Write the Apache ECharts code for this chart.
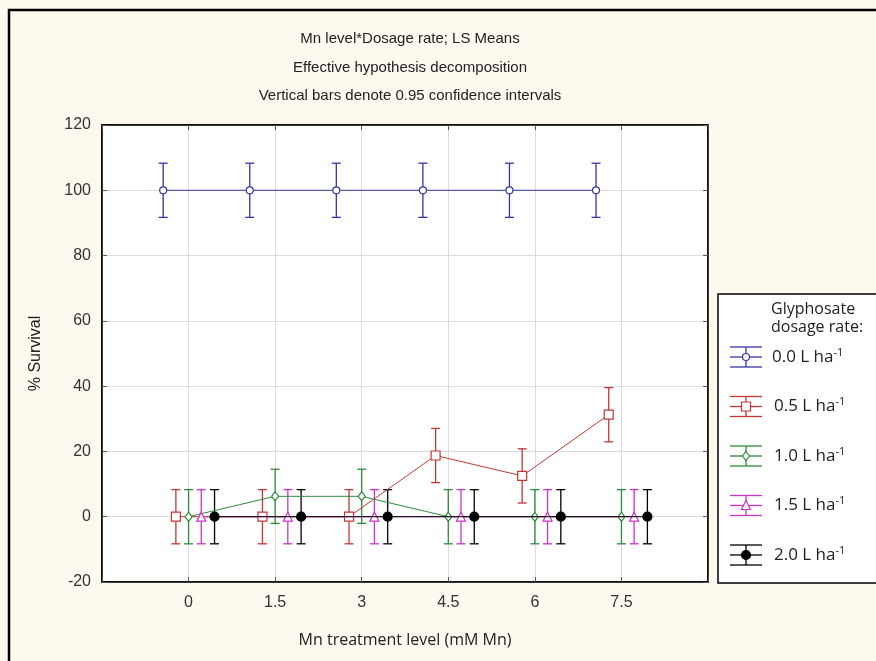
<!DOCTYPE html>
<html>
<head>
<meta charset="utf-8">
<script src="https://cdn.jsdelivr.net/npm/echarts@6/dist/echarts.min.js"></script>
<style>
html,body{margin:0;padding:0;background:#fdf9ee;}
#chart{width:876px;height:661px;}
</style>
</head>
<body>
<div id="chart"></div>
<script>
// ---- data ----
const mnLevels = [0, 1.5, 3, 4.5, 6, 7.5];
const xTickLabels = ['0', '1.5', '3', '4.5', '6', '7.5'];
const doseNames = ['0.0', '0.5', '1.0', '1.5', '2.0'];
const dose00 = [100, 100, 100, 100, 100, 100];
const dose05 = [0, 0, 0, 18.75, 12.5, 31.25];
const dose10 = [0, 6.25, 6.25, 0, 0, 0];
const dose15 = [0, 0, 0, 0, 0, 0];
const dose20 = [0, 0, 0, 0, 0, 0];
const ciHalf = [8.3, 8.3, 8.3, 8.3, 8.3]; // 0.95 CI half width per series
const titleLines = ['Mn level*Dosage rate; LS Means', 'Effective hypothesis decomposition', 'Vertical bars denote 0.95 confidence intervals'];

// ---- style ----
const jitter = [-0.44, -0.22, 0, 0.22, 0.45];
const colors = ['#3434a8', '#c43636', '#2f8a3a', '#cc33cc', '#000000'];
const symbols = ['circle', 'rect', 'diamond', 'triangle', 'circle'];
const symSizes = [7, 9, [7, 9], 9, 9];
const filled = [false, false, false, false, true];

const allSeriesVals = [dose00, dose05, dose10, dose15, dose20];

const series = [];
allSeriesVals.forEach((vals, si) => {
  const c = colors[si];
  series.push({
    type: 'custom',
    name: doseNames[si] + ' eb',
    z: 2,
    silent: true,
    renderItem: function (params, api) {
      const x = api.value(0), lo = api.value(1), hi = api.value(2);
      const pLo = api.coord([x, lo]);
      const pHi = api.coord([x, hi]);
      const hw = 4.5;
      const st = { stroke: c, lineWidth: 1.3 };
      return {
        type: 'group',
        children: [
          { type: 'line', shape: { x1: pLo[0], y1: pLo[1], x2: pHi[0], y2: pHi[1] }, style: st },
          { type: 'line', shape: { x1: pLo[0] - hw, y1: pLo[1], x2: pLo[0] + hw, y2: pLo[1] }, style: st },
          { type: 'line', shape: { x1: pHi[0] - hw, y1: pHi[1], x2: pHi[0] + hw, y2: pHi[1] }, style: st }
        ]
      };
    },
    data: vals.map((v, i) => [mnLevels[i] + jitter[si], v - ciHalf[si], v + ciHalf[si]])
  });
  series.push({
    type: 'line',
    name: doseNames[si],
    z: 3 + si,
    data: vals.map((v, i) => [mnLevels[i] + jitter[si], v]),
    symbol: symbols[si],
    symbolSize: symSizes[si],
    showSymbol: true,
    lineStyle: { color: c, width: 1 },
    itemStyle: { color: filled[si] ? c : '#ffffff', borderColor: c, borderWidth: 1.2 },
    emphasis: { disabled: true },
    animation: false
  });
});

// ---- legend (drawn) ----
const lgX = 718, lgY = 294;
const legendChildren = [
  { type: 'rect', shape: { x: lgX, y: lgY, width: 200, height: 289 }, style: { fill: '#ffffff', stroke: '#000', lineWidth: 1.5 } },
  { type: 'text', style: { x: 771, y: 300, text: 'Glyphosate\ndosage rate:', font: '16px "Open Sans", sans-serif', fill: '#222', lineHeight: 18 } }
];
doseNames.forEach((n, i) => {
  const cy = 357 + i * 49.5;
  const c = colors[i];
  const st = { stroke: c, lineWidth: 1.3 };
  const cx = 746;
  [-10, 0, 10].forEach(d => legendChildren.push({ type: 'line', shape: { x1: 730, y1: cy + d, x2: 762, y2: cy + d }, style: st }));
  legendChildren.push({ type: 'line', shape: { x1: cx, y1: cy - 10, x2: cx, y2: cy + 10 }, style: st });
  const ms = { fill: filled[i] ? c : '#fff', stroke: c, lineWidth: 1.2 };
  if (symbols[i] === 'circle') legendChildren.push({ type: 'circle', shape: { cx: cx, cy: cy, r: filled[i] ? 4.5 : 3.5 }, style: ms });
  if (symbols[i] === 'rect') legendChildren.push({ type: 'rect', shape: { x: cx - 4.5, y: cy - 4.5, width: 9, height: 9 }, style: ms });
  if (symbols[i] === 'diamond') legendChildren.push({ type: 'polygon', shape: { points: [[cx, cy - 4.5], [cx + 3.5, cy], [cx, cy + 4.5], [cx - 3.5, cy]] }, style: ms });
  if (symbols[i] === 'triangle') legendChildren.push({ type: 'polygon', shape: { points: [[cx, cy - 5], [cx + 4.5, cy + 4], [cx - 4.5, cy + 4]] }, style: ms });
  legendChildren.push({
    type: 'text',
    style: {
      x: 772 + (i > 0 ? 2 : 0), y: cy, verticalAlign: 'middle',
      text: n + ' L ha{sup|-1}',
      font: '17px "Open Sans", sans-serif', fill: '#222',
      rich: { sup: { fontSize: 11, verticalAlign: 'top', padding: [0, 0, 9, 0], fontFamily: '"Open Sans", sans-serif', fill: '#222' } }
    }
  });
});

const chart = echarts.init(document.getElementById('chart'), null, { renderer: 'canvas' });
chart.setOption({
  backgroundColor: '#fdf9ee',
  animation: false,
  title: {
    text: titleLines.join('\n'),
    left: 405, top: 20, textAlign: 'center',
    textStyle: { fontFamily: '"Liberation Sans", Arial, sans-serif', fontSize: 15, fontWeight: 'normal', color: '#222', lineHeight: 28.5 }
  },
  grid: { left: 102, right: 168, top: 125, bottom: 79, show: true, backgroundColor: '#ffffff', borderColor: '#000', borderWidth: 1.5 },
  xAxis: [{
    type: 'value', min: -1.5, max: 9, interval: 1.5,
    name: 'Mn treatment level (mM Mn)', nameLocation: 'middle', nameGap: 50,
    nameTextStyle: { fontFamily: '"Open Sans", sans-serif', fontSize: 16, color: '#222' },
    axisLine: { show: true, onZero: false, lineStyle: { color: '#000', width: 1.5 } },
    axisTick: { show: true, inside: true, length: 5, lineStyle: { color: '#555' } },
    axisLabel: {
      margin: 13, fontFamily: '"Liberation Sans", Arial, sans-serif', fontSize: 16, color: '#333',
      formatter: v => { const i = mnLevels.indexOf(v); return i >= 0 ? xTickLabels[i] : ''; }
    },
    splitLine: { show: true, lineStyle: { color: '#dcdcdc', width: 1 } }
  }, {
    type: 'value', position: 'top', min: -1.5, max: 9, interval: 1.5,
    axisLine: { show: true, onZero: false, lineStyle: { color: '#000', width: 1.5 } },
    axisTick: { show: true, inside: true, length: 5, lineStyle: { color: '#555' } },
    axisLabel: { show: false }, splitLine: { show: false }
  }],
  yAxis: [{
    type: 'value', min: -20, max: 120, interval: 20,
    name: '% Survival', nameLocation: 'middle', nameGap: 58, nameRotate: 90,
    nameTextStyle: { fontFamily: '"Liberation Sans", Arial, sans-serif', fontSize: 16, color: '#222' },
    axisLine: { show: true, onZero: false, lineStyle: { color: '#000', width: 1.5 } },
    axisTick: { show: true, inside: true, length: 5, lineStyle: { color: '#555' } },
    axisLabel: { margin: 11, fontFamily: '"Liberation Sans", Arial, sans-serif', fontSize: 16, color: '#333' },
    splitLine: { show: true, lineStyle: { color: '#dcdcdc', width: 1 } }
  }, {
    type: 'value', position: 'right', min: -20, max: 120, interval: 20,
    axisLine: { show: true, onZero: false, lineStyle: { color: '#000', width: 1.5 } },
    axisTick: { show: true, inside: true, length: 5, lineStyle: { color: '#555' } },
    axisLabel: { show: false }, splitLine: { show: false }
  }],
  series: series,
  graphic: [
    { type: 'group', z: 100, children: legendChildren },
    { type: 'rect', z: 101, shape: { x: 9, y: 10, width: 900, height: 700 }, style: { fill: null, stroke: '#000', lineWidth: 2.5 } }
  ]
});
</script>
</body>
</html>
